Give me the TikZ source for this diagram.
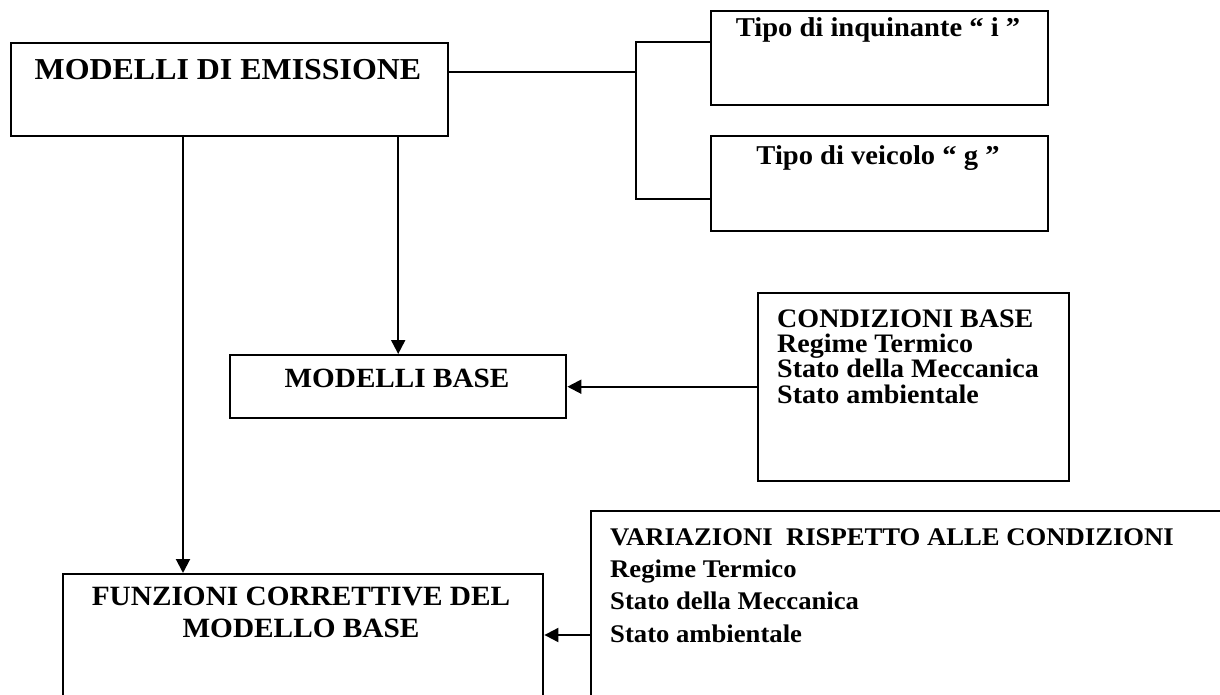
\documentclass[tikz,border=0pt]{standalone}
\usepackage{fontspec}
\setmainfont{Liberation Serif}[FakeStretch=1.05]
\usetikzlibrary{arrows.meta,positioning}

\begin{document}
\begin{tikzpicture}[x=1pt, y=-1pt,
    box/.style={draw, line width=2.4pt, rectangle, anchor=north west, inner sep=0pt},
    line/.style={line width=2.4pt},
    arrow/.style={line width=2pt, -{Triangle[length=14pt, width=14pt]}},
    txt/.style={inner sep=0pt, font=\bfseries}]
  \useasboundingbox (0,0) rectangle (1220,695);
  \clip (0,0) rectangle (1220,695);

  % boxes
  \node[box, minimum width=437pt, minimum height=93pt] (emis) at (10,42) {};
  \node[box, minimum width=337pt, minimum height=94pt] (tipoI) at (710,10) {};
  \node[box, minimum width=337pt, minimum height=95pt] (tipoG) at (710,135) {};
  \node[box, minimum width=336pt, minimum height=63pt] (mbase) at (229,354) {};
  \node[box, minimum width=311pt, minimum height=188pt] (cond) at (757,292) {};
  \node[box, minimum width=480pt, minimum height=200pt] (funz) at (62,573) {};
  \node[box, minimum width=700pt, minimum height=250pt] (var) at (590,510) {};

  % texts
  \node[txt, anchor=base, font=\bfseries\fontsize{30.4}{32}\selectfont] (emisT) at (228,80) {MODELLI DI EMISSIONE};
  \node[txt, anchor=base, font=\bfseries\fontsize{27.2}{28}\selectfont] (tipoIT) at (878,37) {Tipo di inquinante “ i ”};
  \node[txt, anchor=base, font=\bfseries\fontsize{27.2}{28}\selectfont] (tipoGT) at (878,165) {Tipo di veicolo “ g ”};
  \node[txt, anchor=base, font=\bfseries\fontsize{27.8}{28}\selectfont] (mbaseT) at (397,387) {MODELLI BASE};
  \node[txt, anchor=base west, align=left, font=\bfseries\fontsize{26.7}{25.3}\selectfont] (condT) at (777,403)
    {CONDIZIONI BASE\\Regime Termico\\Stato della Meccanica\\Stato ambientale};
  \node[txt, anchor=base, align=center, font=\bfseries\fontsize{27.9}{32}\selectfont] (funzT) at (301,637)
    {FUNZIONI CORRETTIVE DEL\\MODELLO BASE};
  \node[txt, anchor=base west, align=left, font=\bfseries\fontsize{25.4}{32.3}\selectfont] (varT) at (610,642)
    {VARIAZIONI~ RISPETTO ALLE CONDIZIONI\\Regime Termico\\Stato della Meccanica\\Stato ambientale};

  % connectors
  \coordinate (fork) at (636,72);
  \coordinate (forkTop) at (636,42);
  \coordinate (forkBot) at (636,199);
  \coordinate (drop) at (183,135);
  \coordinate (varIn) at (590,635);
  \draw[line] (emis.east |- fork) -- (fork);
  \draw[line] (forkTop -| tipoI.west) -- (forkTop) -- (forkBot) -- (forkBot -| tipoG.west);
  \draw[arrow] (mbase.north |- emis.south) -- (mbase.north);
  \draw[arrow] (drop) -- (drop |- funz.north);
  \draw[arrow] (cond.west |- mbase.east) -- (mbase.east);
  \draw[arrow] (varIn) -- (varIn -| funz.east);
\end{tikzpicture}
\end{document}
